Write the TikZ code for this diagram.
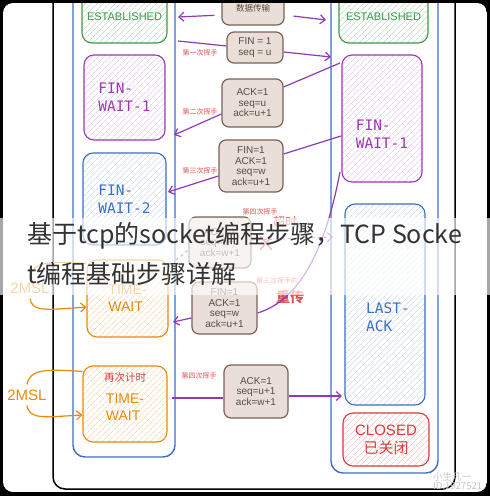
\documentclass[tikz,border=0pt]{standalone}
\usepackage{fontspec}
\setmainfont{Liberation Sans}
\setmonofont{DejaVu Sans Mono}
\newfontfamily\cjk{Noto Sans CJK SC}
\usetikzlibrary{positioning}
\usetikzlibrary{arrows.meta}
\usetikzlibrary{patterns.meta}
\usetikzlibrary{shapes.misc}
\definecolor{laneblue}{HTML}{3B6FC4}
\definecolor{estgreen}{HTML}{3A9A48}
\definecolor{finpurple}{HTML}{9C36B5}
\definecolor{waitorange}{HTML}{E8890C}
\definecolor{closered}{HTML}{D93A3A}
\definecolor{msgbrown}{HTML}{7A6258}
\definecolor{msgfill}{HTML}{E9DED8}
\definecolor{msgtext}{HTML}{5A4A44}
\definecolor{arrowpurple}{HTML}{8E3AB8}
\definecolor{wavered}{HTML}{E05050}
\tikzset{
    lane/.style = {rectangle, rounded corners=12pt, draw=laneblue, line width=1.4pt},
    statebox/.style = {rectangle, rounded corners=10pt, line width=1.1pt, inner sep=0pt},
    monotxt/.style = {font=\fontsize{14.5}{18}\selectfont\ttfamily, align=left},
    sanstxt/.style = {font=\fontsize{14}{17}\selectfont, align=left},
    stateg/.style = {statebox, draw=estgreen, text=estgreen, pattern={Lines[angle=45,distance=4pt,line width=0.5pt]}, pattern color=estgreen!45, font=\fontsize{11}{13}\selectfont},
    statep/.style = {statebox, monotxt, draw=finpurple, text=finpurple, pattern={Lines[angle=45,distance=4pt,line width=0.5pt]}, pattern color=finpurple!35},
    stateb/.style = {statebox, monotxt, draw=laneblue, text=laneblue, pattern={Lines[angle=45,distance=4pt,line width=0.5pt]}, pattern color=laneblue!35},
    stateo/.style = {statebox, sanstxt, draw=waitorange, text=waitorange, pattern={Lines[angle=45,distance=4pt,line width=0.5pt]}, pattern color=waitorange!45},
    stater/.style = {statebox, draw=closered, text=closered, align=center, font=\fontsize{15}{18}\selectfont, pattern={Lines[angle=45,distance=4pt,line width=0.5pt]}, pattern color=closered!40},
    msgbox/.style = {rectangle, rounded corners=7pt, draw=msgbrown, fill=msgfill, line width=1.2pt, text=msgtext, align=center, inner sep=0pt, font=\fontsize{10}{10.5}\selectfont},
    wavelbl/.style = {text=wavered, inner sep=0pt, font=\cjk\fontsize{7}{8}\selectfont},
    msl/.style = {text=waitorange, inner sep=5pt, font=\fontsize{15}{15}\selectfont},
    lostx/.style = {cross out, draw=closered, line width=1.3pt, minimum width=10pt, minimum height=12pt, inner sep=0pt},
    edgep/.style = {-{Straight Barb[length=5pt,width=9pt]}, line width=1.2pt, arrowpurple},
    edgepl/.style = {line width=1.2pt, arrowpurple},
    edgepd/.style = {-{Straight Barb[length=5pt,width=9pt]}, line width=1pt, arrowpurple, dashed},
    edgeo/.style = {-{Straight Barb[length=5pt,width=9pt]}, line width=1.2pt, waitorange},
    edgeol/.style = {line width=1.2pt, waitorange},
    titletxt/.style = {anchor=west, inner sep=0pt, text=black!80, font=\cjk\fontsize{25}{25}\selectfont},
    wmark/.style = {anchor=west, inner sep=0pt, text=black!22, font=\cjk\fontsize{9.5}{9.5}\selectfont}
}

\begin{document}
\begin{tikzpicture}[x=1pt,y=-1pt]
\path[use as bounding box] (0,0) rectangle (490,496);
\fill[black] (0,0) rectangle (490,496);
\begin{scope}
\clip[rounded corners=10pt] (3,3) rectangle (487,492);
\fill[white] (3,3) rectangle (487,492);
\draw[line width=1.5pt, rounded corners=12pt] (53,-20) -- (53,489) -- (455,489) -- (455,-20);
%
\node[lane, minimum width=102pt, minimum height=480pt] at (124,217) (cli) {};
\node[lane, minimum width=107pt, minimum height=496pt] at (384.5,225) (srv) {};
%
% client states
\node[stateg, minimum width=85pt, minimum height=52pt] at (124.5,17) (estc) {ESTABLISHED};
\node[statep, minimum width=81pt, minimum height=85pt] at (124.5,97.5) (fw1c) {FIN-\\WAIT-1};
\node[stateb, minimum width=83pt, minimum height=92pt] at (124.5,199) (fw2c) {FIN-\\WAIT-2};
\node[stateo, minimum width=81pt, minimum height=77pt] at (127.5,298.5) (tw1c) {TIME-\\WAIT};
\node[stateo, minimum width=84pt, minimum height=76pt,
      label={[sanstxt, text=waitorange, yshift=-3.5pt]center:{TIME-\\WAIT}},
      label={[wavelbl, font=\cjk\fontsize{10.5}{11}\selectfont, text=closered, yshift=26pt]center:再次计时}] at (125,404) (tw2c) {};
%
% server states
\node[stateg, minimum width=89pt, minimum height=52pt] at (383.5,17) (ests) {ESTABLISHED};
\node[statep, minimum width=80pt, minimum height=127pt,
      label={[monotxt, text=finpurple, yshift=-16pt]center:{FIN-\\WAIT-1}}] at (382,118.5) (fw1s) {};
\node[stateb, minimum width=80pt, minimum height=201pt,
      label={[monotxt, text=laneblue, xshift=3pt, yshift=-12.5pt]center:{LAST-\\ACK}}] at (385,304.5) (lastack) {};
\node[stater, minimum width=86pt, minimum height=53pt] at (386,439.5) (closeds) {CLOSED\\{\cjk 已关闭}};
%
% messages
\node[msgbox, minimum width=62pt, minimum height=34pt, font=\cjk\fontsize{8.5}{10}\selectfont] at (253,8) (data) {数据传输};
\node[msgbox, minimum width=56pt, minimum height=31pt] at (255,47.5) (fin1) {FIN = 1\\seq = u};
\node[msgbox, minimum width=61pt, minimum height=48pt] at (252.5,103) (ack1) {ACK=1\\seq=u\\ack=u+1};
\node[msgbox, minimum width=64pt, minimum height=52pt] at (251,166) (fin2) {FIN=1\\ACK=1\\seq=w\\ack=u+1};
\node[msgbox, minimum width=62pt, minimum height=51pt] at (220,242.5) (ack2) {ACK=1\\seq=u+1\\ack=w+1};
\node[msgbox, minimum width=65pt, minimum height=52pt] at (224.5,308) (fin3) {FIN=1\\ACK=1\\seq=w\\ack=u+1};
\node[msgbox, minimum width=64pt, minimum height=53pt] at (256,391.5) (ack3) {ACK=1\\seq=u+1\\ack=w+1};
%
\node[wavelbl] at (200,53) (wave1) {第一次挥手};
\node[wavelbl] at (200,112) (wave2) {第二次挥手};
\node[wavelbl] at (200,171) (wave3) {第三次挥手};
\node[wavelbl] at (260,212) (wave4) {第四次挥手};
\node[wavelbl, font=\cjk\fontsize{12}{12}\selectfont] at (285,222) (timeout) {超时};
\node[wavelbl] at (277,281) (wave5) {第三次挥手的};
\node[wavelbl, font=\cjk\bfseries\fontsize{14}{14}\selectfont] at (290,297) (resend) {重传};
\node[wavelbl] at (199,376) (wave6) {第四次挥手};
%
\coordinate (estcin) at (178,17);
\coordinate (estsin) at (326,20);
\coordinate (finout) at (178,41);
\coordinate (finin) at (331,57);
\coordinate (ackout) at (340,63);
\coordinate (ackin) at (174,135);
\coordinate (fin2out) at (341,136);
\coordinate (fin2in) at (168,192);
\coordinate (ack2out) at (176,260);
\coordinate (ack2in) at (333,237);
\coordinate (fin3out) at (340,172);
\coordinate (fin3in) at (173,322);
\coordinate (ack3out) at (172,398);
\coordinate (ack3in) at (342,396);
%
\draw[edgep, shorten <=7pt] ([yshift=-7pt]data.west) -- (estcin);
\draw[edgep, shorten <=9pt] ([yshift=-7pt]data.east) -- (estsin);
\draw[edgepl] (finout) -- ([yshift=1.5pt]fin1.west);
\draw[edgep] ([yshift=-4.5pt]fin1.east) -- (finin);
\draw[edgepl] (ackout) -- ([yshift=16pt]ack1.east);
\draw[edgep] ([yshift=-11pt]ack1.west) -- (ackin);
\draw[edgepl] (fin2out) -- ([yshift=12pt]fin2.east);
\draw[edgep] ([yshift=-10pt]fin2.west) -- (fin2in);
\draw[edgepl, dashed] (ack2out) -- ([yshift=-7.5pt]ack2.west);
\draw[edgepd] ([yshift=2.5pt]ack2.east) -- (ack2in);
\node[lostx] at (266,243) (lost) {};
\draw[edgepl] (fin3out) .. controls (325,250) and (300,300) .. ([yshift=-5pt]fin3.east);
\draw[edgep] ([yshift=-10pt]fin3.west) -- (fin3in);
\draw[edgepl] (ack3out) -- ([yshift=-6.5pt]ack3.west);
\draw[edgep] ([yshift=-4.5pt]ack3.east) -- (ack3in);
%
% 2MSL timers
\node[msl] at (30,288) (msl1) {2MSL};
\node[msl] at (27,395) (msl2) {2MSL};
\draw[edgeol] ([yshift=-4pt]tw1c.north west) .. controls (48,261) and (32,262) .. (msl1.north);
\draw[edgeo] (msl1.south) .. controls (32,312) and (45,310) .. ([yshift=-8.5pt]tw1c.west);
\draw[edgeol] ([yshift=-6pt]tw2c.north west) .. controls (45,369) and (30,369) .. (msl2.north);
\draw[edgeo] (msl2.south) .. controls (29,420) and (45,417) .. ([yshift=-11pt]tw2c.west);
%
\node[wmark] at (433,477) (wm1) {小生凡一};
\node[wmark] at (433,486) (wm2) {ID:1927521};
\end{scope}
%
\fill[white, opacity=0.65] (0,218) rectangle (490,295);
\node[titletxt] at (27,236) (title1) {基于tcp的socket编程步骤，TCP Socke};
\node[titletxt] at (27,274) (title2) {t编程基础步骤详解};

\end{tikzpicture}
\end{document}
